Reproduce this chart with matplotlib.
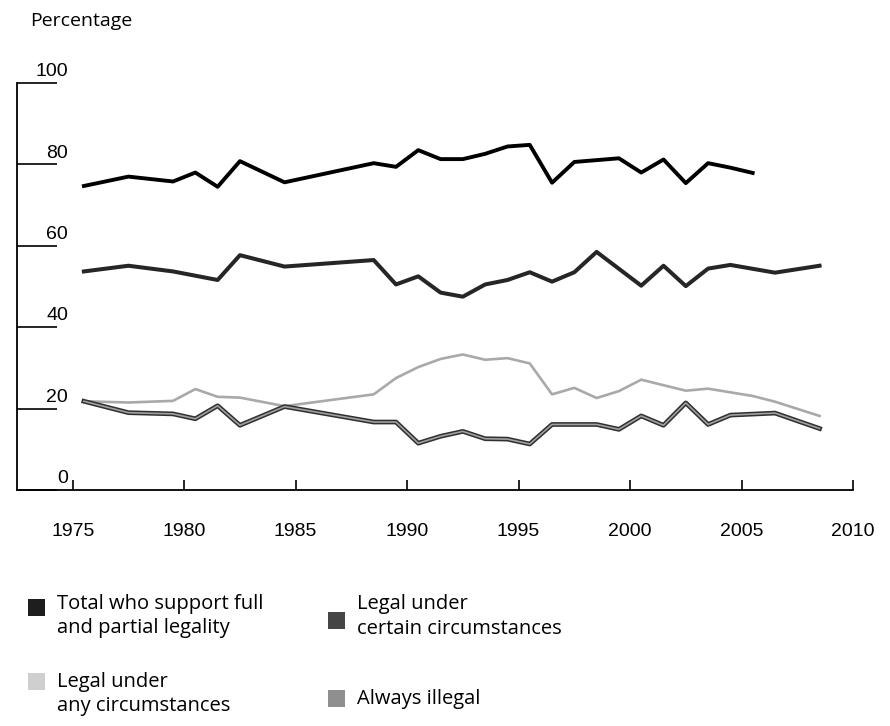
import numpy as np
import matplotlib
matplotlib.use("Agg")
import matplotlib.pyplot as plt
from matplotlib.patches import Rectangle
from matplotlib.transforms import blended_transform_factory

# Survey years and percentages
total_years = [1975, 1977, 1979, 1980, 1981, 1982, 1984, 1988, 1989, 1990, 1991, 1992,
               1993, 1994, 1995, 1996, 1997, 1999, 2000, 2001, 2002, 2003, 2004, 2005]
total = [74.7, 77.0, 75.8, 78.0, 74.5, 80.8, 75.6, 80.3, 79.4, 83.5, 81.3, 81.3,
         82.6, 84.4, 84.8, 75.5, 80.6, 81.5, 78.0, 81.2, 75.4, 80.3, 79.2, 77.9]

certain_years = [1975, 1977, 1979, 1981, 1982, 1984, 1988, 1989, 1990, 1991, 1992, 1993,
                 1994, 1995, 1996, 1997, 1998, 2000, 2001, 2002, 2003, 2004, 2006, 2008]
certain = [53.7, 55.1, 53.7, 51.6, 57.7, 54.9, 56.5, 50.5, 52.5, 48.5, 47.5, 50.5,
           51.6, 53.5, 51.2, 53.5, 58.5, 50.2, 55.1, 50.1, 54.4, 55.3, 53.4, 55.1]

any_years = [1975, 1977, 1979, 1980, 1981, 1982, 1984, 1988, 1989, 1990, 1991, 1992, 1993,
             1994, 1995, 1996, 1997, 1998, 1999, 2000, 2002, 2003, 2005, 2006, 2008]
any_circ = [21.8, 21.5, 21.9, 24.8, 22.9, 22.7, 20.6, 23.5, 27.5, 30.2, 32.2, 33.3, 32.0,
            32.4, 31.1, 23.5, 25.1, 22.6, 24.3, 27.1, 24.4, 24.9, 23.1, 21.7, 18.2]

illegal_years = [1975, 1977, 1979, 1980, 1981, 1982, 1984, 1988, 1989, 1990, 1991, 1992, 1993,
                 1994, 1995, 1996, 1998, 1999, 2000, 2001, 2002, 2003, 2004, 2006, 2008]
illegal = [21.8, 19.0, 18.7, 17.5, 20.7, 15.9, 20.5, 16.7, 16.7, 11.5, 13.2, 14.4, 12.6,
           12.5, 11.3, 16.1, 16.1, 14.9, 18.2, 15.9, 21.4, 16.1, 18.4, 18.9, 15.1]

year_ticks = [1975, 1980, 1985, 1990, 1995, 2000, 2005, 2010]
pct_ticks = [0, 20, 40, 60, 80, 100]

legend_labels = ["Total who support full\nand partial legality",
                 "Legal under\ncertain circumstances",
                 "Legal under\nany circumstances",
                 "Always illegal"]

W, H = 890, 726
tick_font = ["Liberation Sans Narrow", "Liberation Sans", "DejaVu Sans"]
text_font = ["Open Sans", "DejaVu Sans"]

def fx(px):
    return px / W

def fy(py):
    return 1 - py / H

fig = plt.figure(figsize=(W / 100, H / 100), dpi=100)
ax = fig.add_axes([fx(17), fy(490), fx(853) - fx(17), fy(83) - fy(490)])
ax.set_xlim(1972.5, 2010)
ax.set_ylim(0, 100)

# points sit mid-year
ax.plot(np.array(any_years) + 0.5, any_circ, color="#a9a9a9", lw=1.9)
ax.plot(np.array(illegal_years) + 0.5, illegal, color="#303030", lw=3.4)
ax.plot(np.array(illegal_years) + 0.5, illegal, color="#a0a0a0", lw=1.2)
ax.plot(np.array(certain_years) + 0.5, certain, color="#262626", lw=2.9)
ax.plot(np.array(total_years) + 0.5, total, color="black", lw=2.8)

for s in ["top", "right"]:
    ax.spines[s].set_visible(False)
for s in ["left", "bottom"]:
    ax.spines[s].set_linewidth(1.3)

ax.set_xticks(year_ticks)
ax.set_xticklabels([str(y) for y in year_ticks], family=tick_font, fontsize=14)
ax.tick_params(axis="x", direction="in", length=7, width=1.2, pad=24)

ax.set_yticks(pct_ticks)
ax.tick_params(axis="y", direction="in", length=29, width=1.2, labelleft=False)
trans = blended_transform_factory(ax.transAxes, ax.transData)
for v in pct_ticks:
    ax.annotate(str(v), xy=((68 - 17) / (853 - 17), v), xycoords=trans,
                xytext=(0, 2), textcoords="offset points", ha="right", va="bottom",
                family=tick_font, fontsize=14)

fig.text(fx(30), fy(21), "Percentage", family=text_font, fontsize=14, va="center")

# legend drawn by hand: squares plus two-line labels
swatches = [("#1e1e1e", 28, 599, 57, 594),
            ("#454545", 328, 612, 357, 594),
            ("#cfcfcf", 28, 673, 57, 672),
            ("#8f8f8f", 328, 690, 357, 689)]
for (col, sx, sy, tx, ty), lab in zip(swatches, legend_labels):
    fig.add_artist(Rectangle((fx(sx), fy(sy + 17)), 17 / W, 17 / H,
                             transform=fig.transFigure, facecolor=col, edgecolor="none"))
    fig.text(fx(tx), fy(ty), lab, family=text_font, fontsize=14.5, va="top",
             linespacing=1.3)

fig.savefig("out.png", dpi=100)
